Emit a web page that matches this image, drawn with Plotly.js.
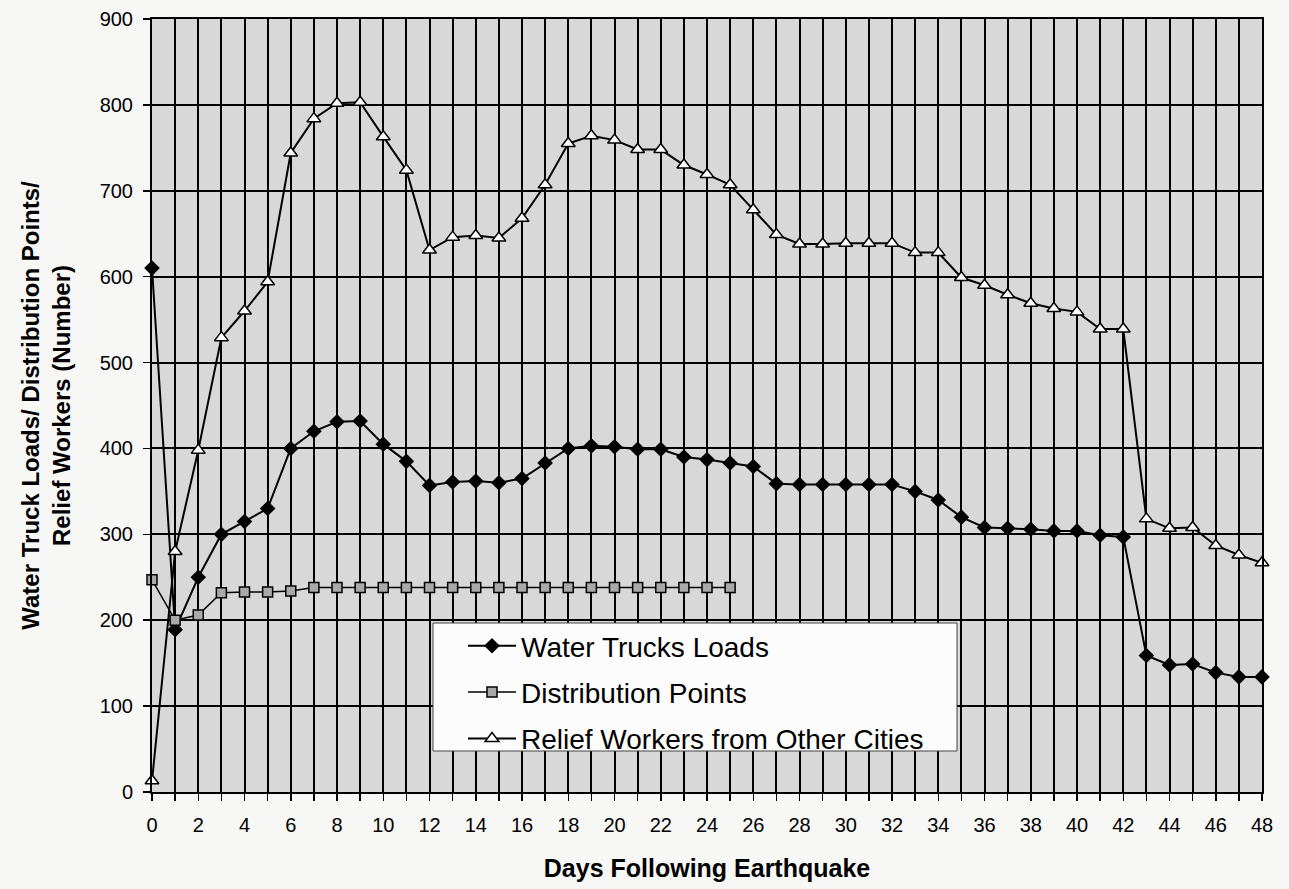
<!DOCTYPE html>
<html><head><meta charset="utf-8">
<script src="https://cdn.plot.ly/plotly-3.0.1.min.js"></script>
<style>html,body{margin:0;padding:0;background:#f7f7f5;} #chart{width:1289px;height:889px;}</style>
</head><body><div id="chart"></div>
<script>
const days = [0,1,2,3,4,5,6,7,8,9,10,11,12,13,14,15,16,17,18,19,20,21,22,23,24,25,26,27,28,29,30,31,32,33,34,35,36,37,38,39,40,41,42,43,44,45,46,47,48];
const waterTruckLoads = [610,189,250,300,315,330,400,420,431,432,405,385,357,361,362,360,365,383,400,403,402,399,399,390,387,383,379,359,358,358,358,358,358,350,340,320,308,307,306,304,304,299,297,159,148,149,139,134,134];
const distDays = [0,1,2,3,4,5,6,7,8,9,10,11,12,13,14,15,16,17,18,19,20,21,22,23,24,25];
const distributionPoints = [247,200,206,232,233,233,234,238,238,238,238,238,238,238,238,238,238,238,238,238,238,238,238,238,238,238];
const reliefWorkers = [13,280,398,529,560,594,744,784,802,803,763,724,631,646,648,645,668,707,755,764,759,748,748,730,719,707,678,649,638,638,639,639,639,628,628,599,590,579,569,563,559,539,539,318,307,308,287,276,267];
const seriesNames = ['Water Trucks Loads','Distribution Points','Relief Workers from Other Cities'];
const xTitle = 'Days Following Earthquake';
const yTitle = 'Water Truck Loads/ Distribution Points/<br>Relief Workers (Number)';

const traces = [
  {x: days, y: waterTruckLoads, name: seriesNames[0], legendgroup:'a', mode:'lines+markers', cliponaxis:false,
   line:{color:'#000', width:2}, marker:{symbol:'diamond', size:12, color:'#000'}},
  {x: distDays, y: distributionPoints, name: seriesNames[1], legendgroup:'b', mode:'lines+markers', cliponaxis:false,
   line:{color:'#000', width:1.5}, marker:{symbol:'square', size:10, color:'#a9a9a9', line:{color:'#000', width:1.5}}},
  {x: days, y: reliefWorkers, name: seriesNames[2], legendgroup:'c', mode:'lines+markers', cliponaxis:false,
   line:{color:'#000', width:2}, marker:{symbol:'triangle-up', size:12, color:'#fff', line:{color:'#000', width:1.5}}}
];

const W = 1289, H = 889, ML = 152, MR = 27, MT = 19, MB = 97;
const pw = W - ML - MR, ph = H - MT - MB;
const px = v => (v - ML) / pw;
const py = v => (H - MB - v) / ph;

const layout = {
  width: W, height: H,
  margin:{l:ML, r:MR, t:MT, b:MB},
  paper_bgcolor:'#f7f7f5',
  plot_bgcolor:'#d8d8d8',
  font:{family:'Arial, "Liberation Sans", sans-serif', color:'#000'},
  showlegend:true,
  legend:{x:px(463), y:py(621), xanchor:'left', yanchor:'top', bgcolor:'rgba(0,0,0,0)', borderwidth:0,
          font:{size:28, color:'#000'}, traceorder:'grouped', tracegroupgap:7, itemwidth:48},
  shapes:[{type:'rect', xref:'paper', yref:'paper', x0:px(433), x1:px(957), y0:py(751), y1:py(623),
           fillcolor:'#fcfcfc', line:{color:'#444', width:1}, layer:'above'}],
  xaxis:{range:[0,48], tick0:0, dtick:2, showgrid:true, gridcolor:'#000', gridwidth:2,
         ticks:'outside', ticklen:7, tickwidth:1.5, tickcolor:'#000',
         showline:true, linecolor:'#000', linewidth:2, mirror:true, zeroline:false,
         tickfont:{size:20}, ticklabelstandoff:7,
         minor:{tick0:0, dtick:1, showgrid:true, gridcolor:'#000', gridwidth:2, ticks:'outside', ticklen:7, tickwidth:1.5, tickcolor:'#000'},
         title:{text:xTitle, font:{size:25, weight:'bold'}, standoff:24}},
  yaxis:{range:[0,900], tick0:0, dtick:100, showgrid:true, gridcolor:'#000', gridwidth:2,
         ticks:'outside', ticklen:7, tickwidth:1.5, tickcolor:'#000',
         showline:true, linecolor:'#000', linewidth:2, mirror:true, zeroline:false,
         tickfont:{size:20}, ticklabelstandoff:6,
         title:{text:yTitle, font:{size:24, weight:'bold'}, standoff:22}}
};
Plotly.newPlot('chart', traces, layout, {displayModeBar:false, staticPlot:true});
</script></body></html>
